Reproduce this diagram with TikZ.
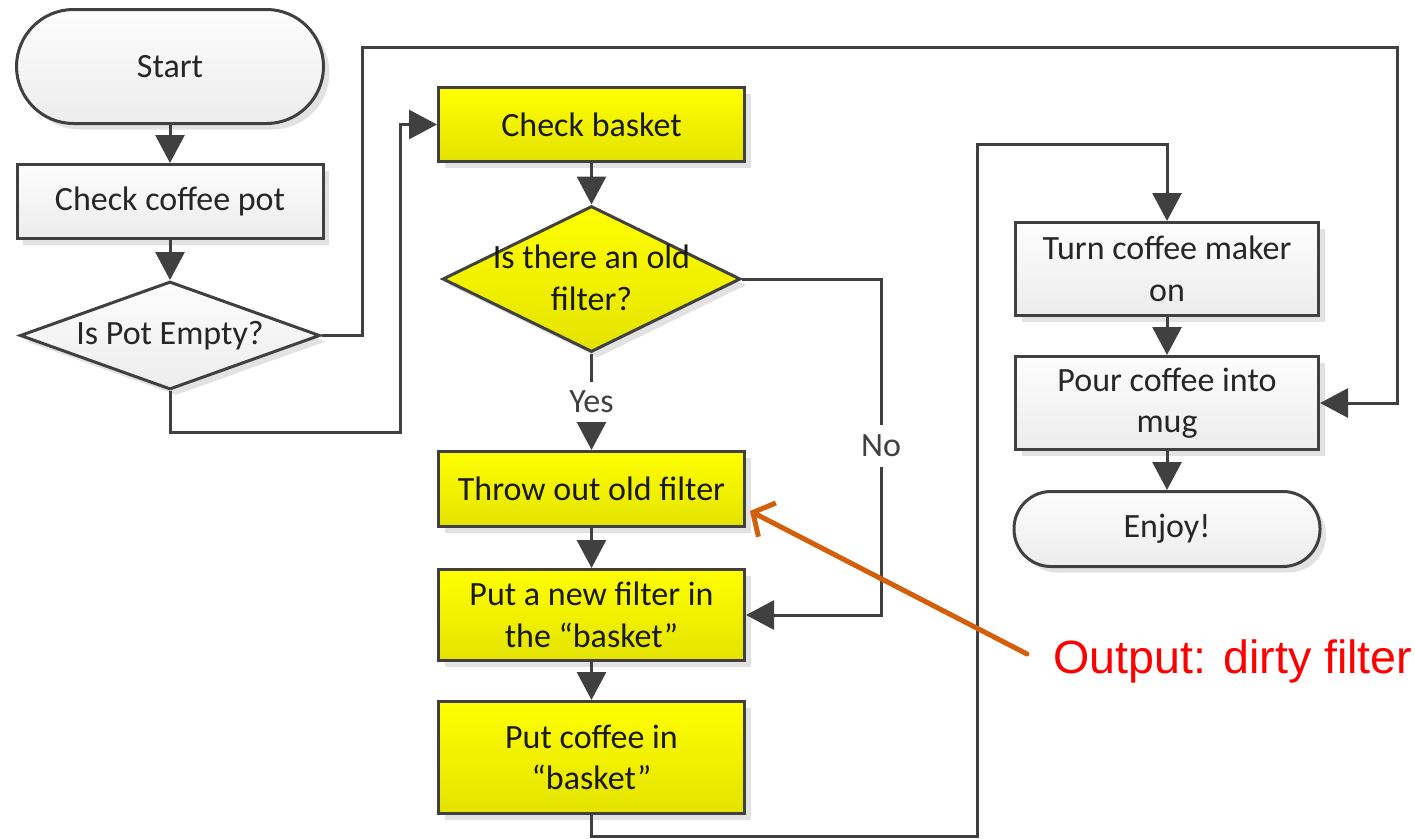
\documentclass[tikz,border=0pt]{standalone}
\usepackage{fontspec}
\setmainfont{Carlito}
\newfontfamily\arialf{Liberation Sans}
\usetikzlibrary{arrows.meta,shapes.geometric,shadows,calc}
\definecolor{ln}{HTML}{404040}
\definecolor{ylt}{HTML}{FFFF00}
\definecolor{ylb}{HTML}{E3E300}
\definecolor{gyt}{HTML}{FDFDFD}
\definecolor{gyb}{HTML}{ECECEC}
\definecolor{shd}{HTML}{E2E2E2}
\definecolor{org}{HTML}{D35F0A}
\definecolor{txt}{HTML}{262626}
\definecolor{redtxt}{HTML}{FF0000}
\begin{document}
\begin{tikzpicture}[x=1pt,y=-1pt,
  every node/.style={inner sep=0pt, font=\fontsize{34}{41.5}\selectfont},
  base/.style={draw=ln, line width=3pt,
    drop shadow={shadow xshift=6pt, shadow yshift=-6pt, fill=shd, opacity=1}},
  graybox/.style={base, rectangle, top color=gyt, bottom color=gyb, text=txt, align=center},
  yelbox/.style={base, rectangle, top color=ylt, bottom color=ylb, text=black!90, align=center},
  termbox/.style={graybox},
  decision/.style={base, diamond},
  lbl/.style={text=ln},
  conn/.style={draw=ln, line width=3pt, -{Triangle[length=28pt,width=29pt]}},
  plain/.style={draw=ln, line width=3pt},
  outarrow/.style={draw=org, line width=5pt, line cap=round, line join=round,
    -{Straight Barb[length=16pt,width=38pt,line width=5pt]}}
]
\useasboundingbox (0,0) rectangle (1415,838);

% left column
\node[termbox, minimum width=307pt, minimum height=114pt, rounded corners=57pt] (start) at (170,66.5) {Start};
\node[graybox, minimum width=306pt, minimum height=74pt] (check) at (170,201.5) {Check coffee pot};
\node[decision, top color=gyt, bottom color=gyb, minimum width=300pt, minimum height=108pt] (d1) at (170,335.5) {};
\node[text=txt] (d1t) at (170,335.5) {Is Pot Empty?};

% middle column
\node[yelbox, minimum width=306pt, minimum height=74pt] (cb) at (591.5,124.5) {Check basket};
\node[decision, top color=ylt, bottom color=ylb, minimum width=298pt, minimum height=146pt] (d2) at (591.5,279) {};
\node[text=black!90, align=center] (d2t) at (591.5,278) {Is there an old\\filter?};
\node[lbl, inner ysep=9pt] (yes) at (591.5,402) {Yes};
\node[yelbox, minimum width=306pt, minimum height=75pt] (throw) at (591.5,489) {Throw out old filter};
\node[yelbox, minimum width=306pt, minimum height=91pt] (putnew) at (591.5,615) {Put a new filter in\\the “basket”};
\node[yelbox, minimum width=306pt, minimum height=112pt] (pc) at (591.5,757.5) {Put coffee in\\“basket”};
\node[lbl, inner ysep=10pt] (no) at (881,446) {No};

% right column
\node[graybox, minimum width=303pt, minimum height=93pt] (turn) at (1167,269) {Turn coffee maker\\on};
\node[graybox, minimum width=303pt, minimum height=93pt] (pour) at (1167,403) {Pour coffee into\\mug};
\node[termbox, minimum width=306pt, minimum height=75pt, rounded corners=37pt] (enjoy) at (1167,529) {Enjoy!};

% annotation
\node[anchor=base west, text=redtxt, font=\arialf\fontsize{46.6}{50}\selectfont] (out) at (1053,673) {Output: dirty filter};

% bend points
\coordinate (k1) at (362,47);
\coordinate (k2) at (1397,47);
\coordinate (k3) at (400,432);
\coordinate (k4) at (977,836);
\coordinate (k5) at (977,144);
\coordinate (ostart) at (1027,654);
\coordinate (otip) at (750,511);

% connectors
\draw[conn] (start.south) -- (check.north);
\draw[conn] (check.south) -- (d1.north);
\draw[conn] (d1.east) -| (k1) -- (k2) |- (pour.east);
\draw[conn] (d1.south) |- (k3) |- (cb.west);
\draw[conn] (cb.south) -- (d2.north);
\draw[plain] (d2.south) -- (yes.north);
\draw[conn] (yes.south) -- (throw.north);
\draw[plain] (d2.east) -| (no.north);
\draw[conn] (no.south) |- (putnew.east);
\draw[conn] (throw.south) -- (putnew.north);
\draw[conn] (putnew.south) -- (pc.north);
\draw[conn] (pc.south) |- (k4) -- (k5) -| (turn.north);
\draw[conn] (turn.south) -- (pour.north);
\draw[conn] (pour.south) -- (enjoy.north);
\draw[outarrow] (ostart) -- (otip);
\end{tikzpicture}
\end{document}
